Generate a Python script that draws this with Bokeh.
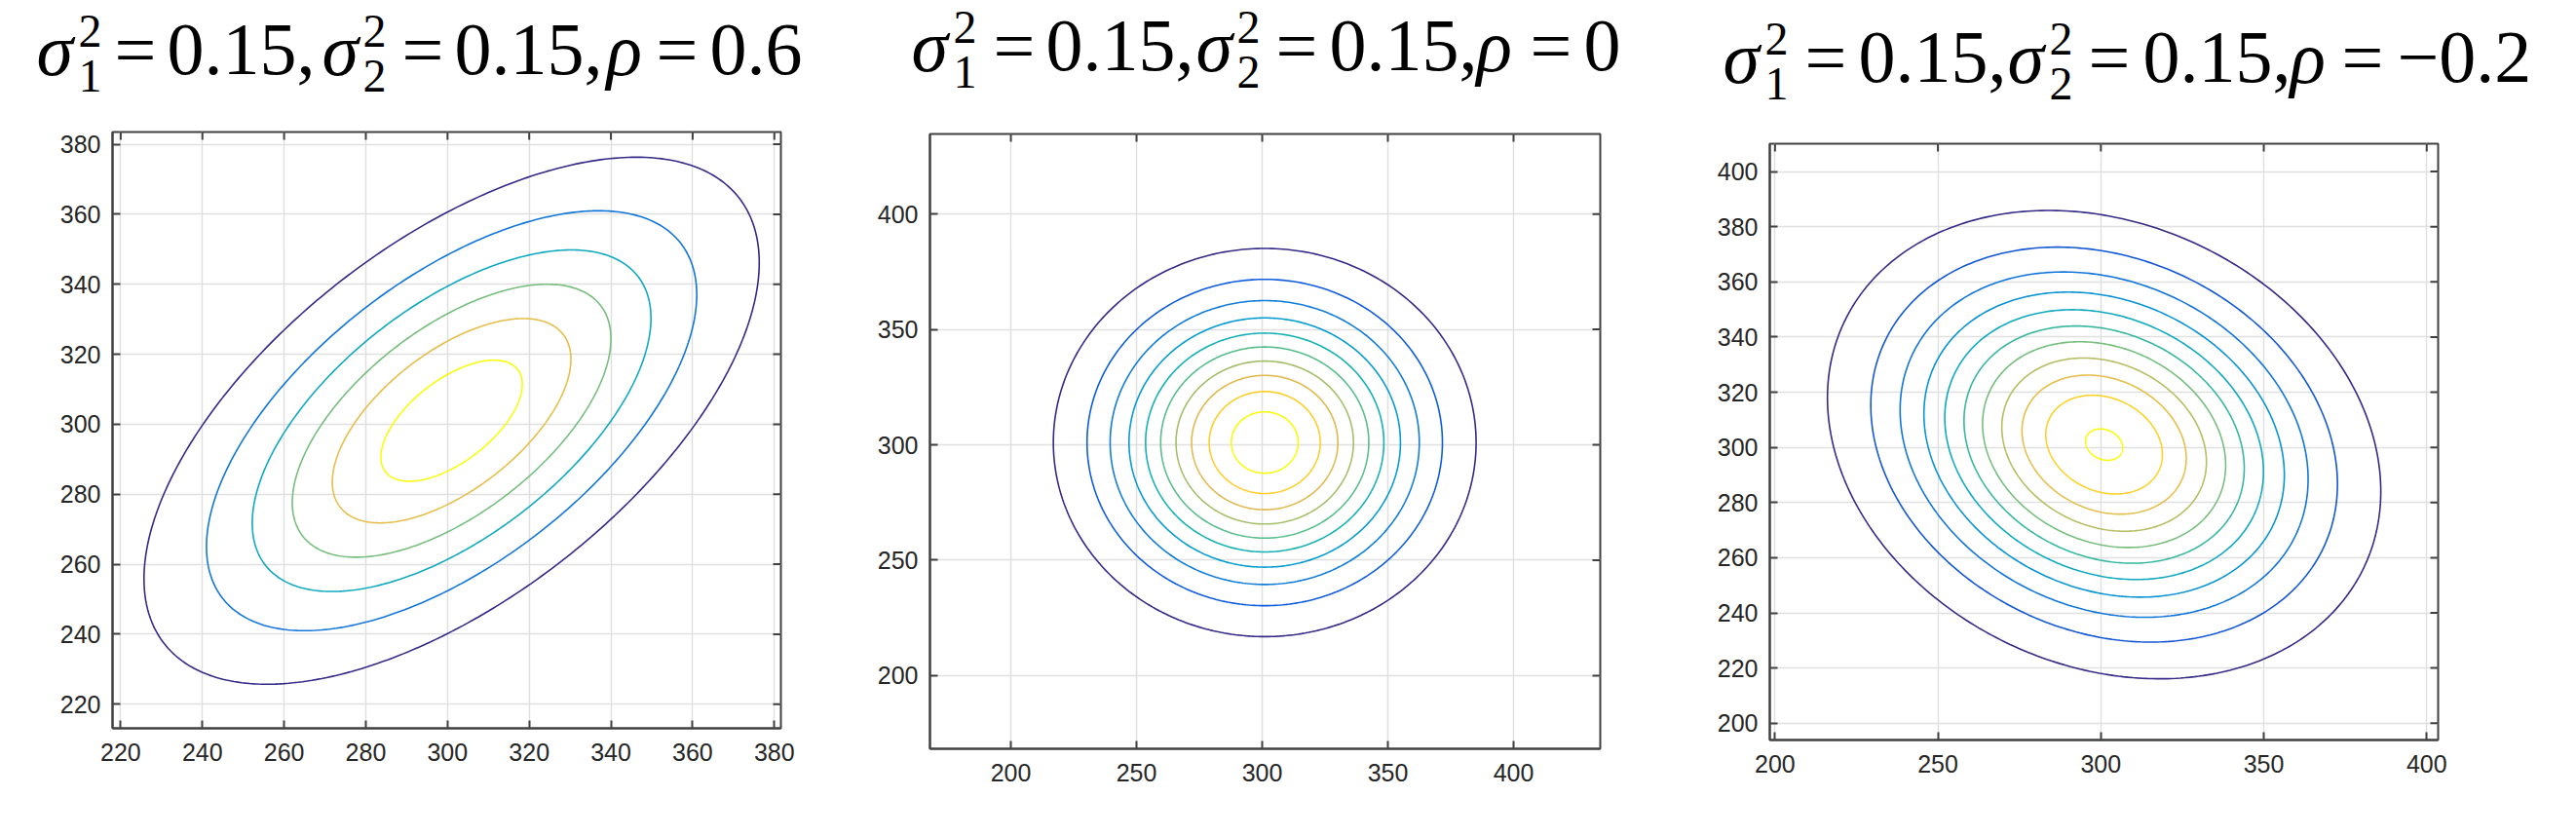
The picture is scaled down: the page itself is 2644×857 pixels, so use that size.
import numpy as np
from bokeh.plotting import figure
from bokeh.models import Range1d, FixedTicker, ColumnDataSource, Spacer
from bokeh.layouts import column, row
from bokeh.embed import file_html
from bokeh.resources import INLINE
from bokeh.core.properties import value

# ---------------- data ----------------
variances = ["0.15", "0.15", "0.15"]
rho_values = [0.6, 0.0, -0.2]
rho_labels = ["0.6", "0", "\u22120.2"]
centers = [301.0, 301.0, 301.0]
# y-extent (distance from centre to the top of each contour), outer -> inner
extents_p1 = [75.3, 60.0, 48.8, 39.0, 29.2, 17.3]
extents_p2 = [84.1, 70.7, 61.5, 54.0, 47.4, 41.4, 35.3, 29.1, 22.1, 13.3]
extents_p3 = [84.9, 71.6, 62.6, 55.3, 48.9, 43.0, 37.3, 31.4, 25.2, 17.9, 5.7]

x_ticks_p1 = [220, 240, 260, 280, 300, 320, 340, 360, 380]
y_ticks_p1 = [220, 240, 260, 280, 300, 320, 340, 360, 380]
x_ticks_p2 = [200, 250, 300, 350, 400]
y_ticks_p2 = [200, 250, 300, 350, 400]
x_ticks_p3 = [200, 250, 300, 350, 400]
y_ticks_p3 = [200, 220, 240, 260, 280, 300, 320, 340, 360, 380, 400]

x_range_p1 = (218.0, 381.6)
y_range_p1 = (213.1, 383.5)
x_range_p2 = (167.8, 434.5)
y_range_p2 = (168.3, 434.7)
x_range_p3 = (198.4, 403.5)
y_range_p3 = (193.9, 410.1)

# ---------------- style ----------------
PARULA = [
    (0.2081, 0.1663, 0.5292), (0.0591, 0.3598, 0.8683), (0.0723, 0.4887, 0.8467),
    (0.0265, 0.6137, 0.8135), (0.0843, 0.6928, 0.7062), (0.3482, 0.7424, 0.5473),
    (0.6473, 0.7456, 0.4188), (0.8824, 0.7274, 0.3217), (0.9880, 0.8066, 0.1794),
    (0.9763, 0.9831, 0.0538),
]


def parula(t):
    pos = t * (len(PARULA) - 1)
    i = min(int(np.floor(pos)), len(PARULA) - 2)
    f = pos - i
    c = [(1 - f) * a + f * b for a, b in zip(PARULA[i], PARULA[i + 1])]
    return "#%02x%02x%02x" % tuple(int(round(255 * v)) for v in c)


FRAME = "#404040"
GRID = "#e0e0e0"
TXT = "#262626"
TICK_FONT = "Liberation Sans"
TITLE_FONT = "Liberation Serif"
TICK_LEN = 8  # px, inward


def ellipse_lines(extents, rho, c):
    t = np.linspace(0, 2 * np.pi, 361)
    s = np.sqrt(1 - rho ** 2)
    xs, ys = [], []
    for e in extents:
        xs.append(c + e * np.cos(t))
        ys.append(c + e * (rho * np.cos(t) + s * np.sin(t)))
    return xs, ys


def make_panel(xr, yr, xt, yt, fw, fh, mbl, mbr, extents, rho, c):
    p = figure(frame_width=fw, frame_height=fh,
               x_range=Range1d(*xr), y_range=Range1d(*yr),
               output_backend="svg", toolbar_location=None, title_location=None,
               min_border_left=mbl, min_border_right=mbr,
               min_border_top=23, min_border_bottom=70)
    p.background_fill_color = "white"
    p.border_fill_color = "white"
    p.outline_line_color = FRAME
    p.outline_line_width = 2
    xtick = FixedTicker(ticks=xt, minor_ticks=[])
    ytick = FixedTicker(ticks=yt, minor_ticks=[])
    p.xaxis.ticker = xtick
    p.yaxis.ticker = ytick
    p.xgrid.ticker = xtick
    p.ygrid.ticker = ytick
    for g in (p.xgrid, p.ygrid):
        g.grid_line_color = GRID
        g.grid_line_width = 1.5
    for ax in (p.xaxis, p.yaxis):
        ax.axis_line_color = FRAME
        ax.axis_line_width = 2
        ax.major_tick_in = TICK_LEN
        ax.major_tick_out = 0
        ax.minor_tick_in = 0
        ax.minor_tick_out = 0
        ax.major_tick_line_color = FRAME
        ax.major_tick_line_width = 2
        ax.major_label_text_font = TICK_FONT
        ax.major_label_text_font_size = "25px"
        ax.major_label_text_color = TXT
    p.xaxis.major_label_standoff = 15
    p.yaxis.major_label_standoff = 12
    # mirrored inward tick marks on the top and right edges (MATLAB box)
    dy = TICK_LEN * (yr[1] - yr[0]) / fh
    dx = TICK_LEN * (xr[1] - xr[0]) / fw
    xt_in = [v for v in xt if xr[0] <= v <= xr[1]]
    yt_in = [v for v in yt if yr[0] <= v <= yr[1]]
    p.segment(x0=xt_in, x1=xt_in, y0=[yr[1]] * len(xt_in), y1=[yr[1] - dy] * len(xt_in),
              line_color=FRAME, line_width=2)
    p.segment(x0=[xr[1]] * len(yt_in), x1=[xr[1] - dx] * len(yt_in), y0=yt_in, y1=yt_in,
              line_color=FRAME, line_width=2)
    xs, ys = ellipse_lines(extents, rho, c)
    n = len(extents)
    colors = [parula(k / (n - 1)) for k in range(n)]
    p.multi_line(xs=xs, ys=ys, line_color=colors, line_width=1.6)
    return p


p1 = make_panel(x_range_p1, y_range_p1, x_ticks_p1, y_ticks_p1, 686, 612, 115, 49,
                extents_p1, rho_values[0], centers[0])
p2 = make_panel(x_range_p2, y_range_p2, x_ticks_p2, y_ticks_p2, 688, 631, 104, 58,
                extents_p2, rho_values[1], centers[1])
p3 = make_panel(x_range_p3, y_range_p3, x_ticks_p3, y_ticks_p3, 686, 612, 116, 138,
                extents_p3, rho_values[2], centers[2])

# ---------------- titles (typeset piece by piece) ----------------
TW, TH = 2640, 112
tf = figure(width=TW, height=TH, x_range=Range1d(0, TW), y_range=Range1d(TH, 0),
            output_backend="svg", toolbar_location=None, title_location=None,
            x_axis_type=None, y_axis_type=None, min_border=0)
tf.grid.visible = False
tf.outline_line_color = None

MAIN, SMALL = 76, 48
# x positions of the pieces of each title, and baseline of its main text
title_layout = [
    dict(x=[37, 80, 80, 117, 171, 330, 372, 372, 412, 466, 622, 673, 728], base=76),
    dict(x=[935, 978, 978, 1019, 1073, 1227, 1269, 1269, 1309, 1364, 1515, 1570, 1625], base=72),
    dict(x=[1768, 1811, 1811, 1852, 1907, 2060, 2103, 2103, 2143, 2199, 2350, 2403, 2460], base=84),
]

# the svg text glyph sits about a third of an em lower than the requested y
shift_main = 0.333 * MAIN
shift_small = 0.333 * SMALL

norm = dict(x=[], y=[], text=[])
ital = dict(x=[], y=[], text=[])
small = dict(x=[], y=[], text=[])
for k, lay in enumerate(title_layout):
    X = lay["x"]
    b = lay["base"]
    v = variances[k]
    ital["x"] += [X[0], X[5], X[10]]
    ital["y"] += [b - shift_main] * 3
    ital["text"] += ["\u03c3", "\u03c3", "\u03c1"]
    small["x"] += [X[1], X[2], X[6], X[7]]
    small["y"] += [b - 29 - shift_small, b + 17 - shift_small,
                   b - 29 - shift_small, b + 17 - shift_small]
    small["text"] += ["2", "1", "2", "2"]
    norm["x"] += [X[3], X[4], X[8], X[9], X[11], X[12]]
    norm["y"] += [b - shift_main] * 6
    norm["text"] += ["=", v + ",", "=", v + ",", "=", rho_labels[k]]

tf.text(x="x", y="y", text="text", source=ColumnDataSource(norm),
        text_font=value(TITLE_FONT), text_font_size=f"{MAIN}px", text_color="black",
        text_baseline="alphabetic", text_align="left")
tf.text(x="x", y="y", text="text", source=ColumnDataSource(ital),
        text_font=value(TITLE_FONT), text_font_style="italic", text_font_size=f"{MAIN}px",
        text_color="black", text_baseline="alphabetic", text_align="left")
tf.text(x="x", y="y", text="text", source=ColumnDataSource(small),
        text_font=value(TITLE_FONT), text_font_size=f"{SMALL}px", text_color="black",
        text_baseline="alphabetic", text_align="left")

layout = column(tf, row(p1, column(Spacer(height=2), p2), column(Spacer(height=12), p3)))
open("out.html", "w").write(file_html(layout, INLINE))
